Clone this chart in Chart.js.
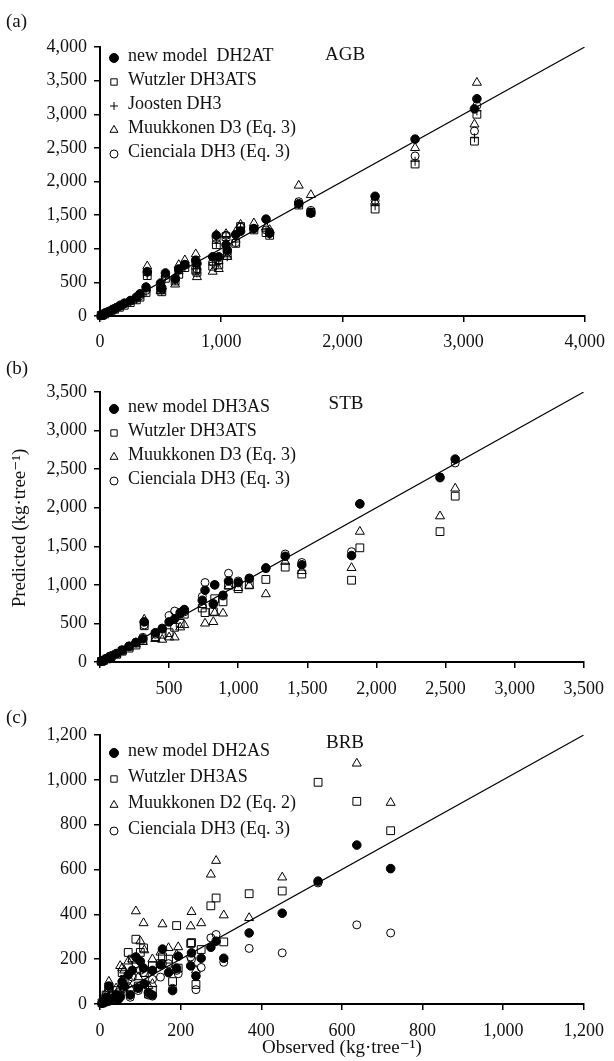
<!DOCTYPE html>
<html>
<head>
<meta charset="utf-8">
<script src="https://cdn.jsdelivr.net/npm/chart.js@4/dist/chart.umd.min.js"></script>
<style>
  html, body { margin: 0; padding: 0; background: #fff; }
  #wrap { position: relative; width: 614px; height: 1061px; }
  canvas { position: absolute; left: 0; }
</style>
</head>
<body>
<div id="wrap">
  <canvas id="agb" width="614" height="360" style="top:0"></canvas>
  <canvas id="stb" width="614" height="345" style="top:360px"></canvas>
  <canvas id="brb" width="614" height="356" style="top:705px"></canvas>
</div>
<script>
// ---- (a) AGB: observed vs predicted, kg per tree
const agbObs      = [3090, 3110, 2600, 2270, 1640, 1740, 1370, 1400, 1270, 1160, 1120, 1040, 1050, 960, 980, 930, 790, 800, 700, 650, 620, 540, 500, 510, 390, 380, 330, 300, 250, 200, 160, 120, 90, 60, 40, 20, 10]
const agbNew      = [3080, 3230, 2630, 1780, 1670, 1530, 1440, 1230, 1300, 1260, 1210, 1060, 980, 1200, 880, 880, 830, 780, 760, 700, 560, 640, 490, 420, 660, 430, 330, 280, 230, 190, 150, 110, 80, 55, 35, 18, 8]
const agbWutzler  = [2600, 3000, 2260, 1590, 1650, 1540, 1240, 1200, 1280, 1330, 1080, 1180, 900, 1060, 760, 740, 680, 650, 720, 620, 520, 560, 390, 360, 600, 350, 280, 240, 200, 160, 130, 100, 70, 50, 30, 15, 8]
const agbJoosten  = [2650, 3050, 2300, 1640, 1660, 1550, 1260, 1210, 1290, 1320, 1100, 1170, 880, 1080, 780, 760, 700, 640, 720, 630, 530, 580, 400, 370, 610, 360, 290, 250, 210, 170, 140, 100, 70, 50, 30, 15, 8]
const agbMuuk     = [2850, 3470, 2500, 1700, 1940, 1800, 1320, 1280, 1380, 1360, 1250, 1220, 880, 1210, 700, 660, 920, 580, 830, 760, 470, 620, 370, 440, 740, 420, 320, 270, 220, 180, 150, 110, 80, 55, 35, 18, 9]
const agbCienc    = [2750, 3130, 2380, 1720, 1700, 1570, 1280, 1250, 1300, 1320, 1090, 1200, 950, 1150, 820, 800, 790, 700, 770, 680, 540, 600, 420, 400, 650, 380, 300, 260, 220, 180, 140, 100, 75, 50, 35, 16, 8]

// ---- (b) STB
const stbObs      = [2570, 2460, 1880, 1820, 1460, 1340, 1200, 1080, 1000, 930, 890, 830, 820, 760, 740, 610, 580, 540, 500, 450, 400, 320, 310, 260, 210, 160, 120, 80, 50, 25, 10]
const stbNew      = [2630, 2390, 2050, 1380, 1260, 1370, 1220, 1080, 1030, 1050, 860, 1000, 750, 930, 800, 680, 640, 560, 520, 430, 380, 520, 300, 250, 200, 150, 110, 75, 45, 22, 8]
const stbWutzler  = [2150, 1690, 1480, 1060, 1140, 1230, 1070, 1000, 950, 1000, 780, 820, 650, 640, 700, 620, 500, 450, 380, 360, 330, 470, 280, 220, 180, 140, 100, 70, 40, 20, 8]
const stbMuuk     = [2250, 1890, 1690, 1220, 1180, 1300, 880, 990, 960, 980, 630, 640, 520, 500, 740, 480, 450, 320, 320, 290, 300, 550, 260, 230, 190, 140, 100, 70, 45, 22, 8]
const stbCienc    = [2580, 2400, 2050, 1430, 1290, 1400, 1210, 1090, 1050, 1150, 870, 1000, 760, 1030, 850, 650, 620, 660, 600, 440, 360, 480, 320, 260, 210, 160, 110, 80, 50, 25, 9]

// ---- (c) BRB
const brbObs      = [721, 637, 541, 452, 370, 307, 288, 275, 251, 238, 227, 225, 194, 190, 180, 170, 155, 150, 130, 130, 120, 110, 108, 100, 95, 89, 80, 75, 70, 60, 55, 50, 45, 40, 30, 22, 20, 15, 10, 5]
const brbNew      = [604, 709, 548, 405, 317, 204, 280, 253, 204, 125, 228, 170, 213, 160, 60, 140, 245, 175, 150, 40, 50, 90, 160, 190, 70, 210, 150, 40, 130, 80, 100, 30, 20, 40, 25, 80, 15, 30, 8, 3]
const brbWutzler  = [773, 904, 989, 504, 492, 277, 473, 438, 243, 87, 274, 270, 160, 350, 100, 200, 210, 180, 170, 60, 45, 140, 250, 230, 80, 289, 200, 60, 230, 110, 140, 50, 30, 60, 35, 60, 20, 40, 10, 5]
const brbMuuk     = [898, 1073, null, 565, 384, 396, 639, 578, 361, 150, 411, 347, 254, 220, 150, 250, 356, 230, 200, 90, 80, 240, 361, 280, 120, 414, 200, 70, 190, 150, 160, 170, 60, 70, 50, 100, 30, 50, 15, 8]
const brbCienc    = [317, 353, 540, 228, 248, 186, 310, 295, 163, 64, 200, 210, 135, 150, 70, 180, 180, 120, 110, 35, 40, 90, 140, 150, 60, 180, 120, 30, 110, 70, 90, 40, 25, 30, 20, 70, 10, 20, 5, 2]

const agbTicks = { xMax: 4000, xStep: 1000, yMax: 4000, yStep: 500 }
const stbTicks = { xMax: 3500, xStep: 500, yMax: 3500, yStep: 500 }
const brbTicks = { xMax: 1200, xStep: 200, yMax: 1200, yStep: 200 }

const SERIF = '"Liberation Serif", "DejaVu Serif", serif'
const INK = "#111"

const pts = (obs, pred) =>
  obs.map((x, i) => ({ x: x, y: pred[i] })).filter((p) => p.y !== null)

// marker styles for each model
const styles = {
  newModel:  { pointStyle: "circle",   radius: 4.3, backgroundColor: "#000",        legendRadius: 4.5 },
  wutzler:   { pointStyle: "rect",     radius: 5.5, backgroundColor: "rgba(0,0,0,0)", legendRadius: 4.5 },
  joosten:   { pointStyle: "cross",    radius: 4.5, backgroundColor: "rgba(0,0,0,0)", legendRadius: 4 },
  muukkonen: { pointStyle: "triangle", radius: 5.2, backgroundColor: "rgba(0,0,0,0)", legendRadius: 4.6 },
  cienciala: { pointStyle: "circle",   radius: 4,   backgroundColor: "rgba(0,0,0,0)", legendRadius: 4 },
}

function series(label, kind, data) {
  const s = styles[kind]
  return {
    type: "scatter",
    label: label,
    data: data,
    pointStyle: s.pointStyle,
    pointRadius: s.radius,
    legendRadius: s.legendRadius,
    backgroundColor: s.backgroundColor,
    borderColor: "#000",
    borderWidth: 1,
    clip: false,
  }
}

function oneToOne(max) {
  return {
    type: "line",
    label: "",
    data: [{ x: 0, y: 0 }, { x: max, y: max }],
    borderColor: "#000",
    borderWidth: 1.2,
    pointRadius: 0,
    fill: false,
  }
}

// panel letter, title, legend and axis titles
const annotate = {
  id: "annotate",
  afterDraw(chart, args, o) {
    const ctx = chart.ctx
    ctx.save()
    ctx.fillStyle = INK
    ctx.textBaseline = "middle"
    ctx.font = "19px " + SERIF
    ctx.textAlign = "left"
    ctx.fillText(o.panel, 6, o.panelY)
    ctx.textAlign = "center"
    ctx.fillText(o.title, o.titleX, o.titleY)

    ctx.font = "18px " + SERIF
    ctx.textAlign = "left"
    let row = 0
    chart.data.datasets.forEach((ds) => {
      if (!ds.label) return
      const y = o.legendY + row * o.legendGap
      row++
      ctx.strokeStyle = "#000"
      ctx.lineWidth = 1
      ctx.fillStyle = ds.backgroundColor
      Chart.helpers.drawPoint(ctx, { pointStyle: ds.pointStyle, radius: ds.legendRadius, rotation: 0, borderWidth: 1 }, 114, y + 2)
      ctx.fillStyle = INK
      ctx.fillText(ds.label, 128, y)
    })

    if (o.yTitle) {
      ctx.save()
      ctx.translate(o.yTitleX, o.yTitleY)
      ctx.rotate(-Math.PI / 2)
      ctx.textAlign = "center"
      ctx.font = "19px " + SERIF
      ctx.fillText(o.yTitle, 0, 0)
      ctx.restore()
    }
    if (o.xTitle) {
      ctx.textAlign = "center"
      ctx.font = "19px " + SERIF
      ctx.fillText(o.xTitle, (chart.chartArea.left + chart.chartArea.right) / 2, o.xTitleY)
    }
    ctx.restore()
  },
}

function axis(max, step, extra) {
  return Object.assign({
    type: "linear",
    min: 0,
    max: max,
    ticks: {
      stepSize: step,
      color: INK,
      font: { family: SERIF, size: 18 },
      padding: 7,
      callback: (v) => v.toLocaleString("en-US"),
    },
    grid: { drawOnChartArea: false, color: "#000", lineWidth: 1.5, tickLength: 6 },
    border: { color: "#000", width: 2 },
  }, extra)
}

function makeChart(id, datasets, t, cfg) {
  const ctx = document.getElementById(id).getContext("2d")
  const x = axis(t.xMax, t.xStep, { afterFit: (s) => { s.height = cfg.xHeight } })
  x.ticks.padding = cfg.xPad
  if (cfg.hideZeroX) x.ticks.callback = (v) => (v === 0 ? "" : v.toLocaleString("en-US"))
  const y = axis(t.yMax, t.yStep, { afterFit: (s) => { s.width = 100 } })
  return new Chart(ctx, {
    data: { datasets: datasets },
    options: {
      responsive: false,
      animation: false,
      layout: { padding: { top: cfg.top, right: 24, left: 0, bottom: 0 } },
      plugins: {
        legend: { display: false },
        tooltip: { enabled: false },
        annotate: cfg.annot,
      },
      scales: { x: x, y: y },
    },
    plugins: [annotate],
  })
}

makeChart("agb", [
  series("new model  DH2AT", "newModel", pts(agbObs, agbNew)),
  series("Wutzler DH3ATS", "wutzler", pts(agbObs, agbWutzler)),
  series("Joosten DH3", "joosten", pts(agbObs, agbJoosten)),
  series("Muukkonen D3 (Eq. 3)", "muukkonen", pts(agbObs, agbMuuk)),
  series("Cienciala DH3 (Eq. 3)", "cienciala", pts(agbObs, agbCienc)),
  oneToOne(agbTicks.xMax),
], agbTicks, {
  top: 47, xHeight: 44, xPad: 9,
  annot: { panel: "(a)", panelY: 22, title: "AGB", titleX: 345, titleY: 55, legendY: 56, legendGap: 24 },
})

makeChart("stb", [
  series("new model DH3AS", "newModel", pts(stbObs, stbNew)),
  series("Wutzler DH3ATS", "wutzler", pts(stbObs, stbWutzler)),
  series("Muukkonen D3 (Eq. 3)", "muukkonen", pts(stbObs, stbMuuk)),
  series("Cienciala DH3 (Eq. 3)", "cienciala", pts(stbObs, stbCienc)),
  oneToOne(stbTicks.xMax),
], stbTicks, {
  top: 32, xHeight: 43, xPad: 10, hideZeroX: true,
  annot: { panel: "(b)", panelY: 9, title: "STB", titleX: 346, titleY: 44, legendY: 47, legendGap: 24,
    yTitle: "Predicted (kg·tree⁻¹)", yTitleX: 20, yTitleY: 168 },
})

makeChart("brb", [
  series("new model DH2AS", "newModel", pts(brbObs, brbNew)),
  series("Wutzler DH3AS", "wutzler", pts(brbObs, brbWutzler)),
  series("Muukkonen D2 (Eq. 2)", "muukkonen", pts(brbObs, brbMuuk)),
  series("Cienciala DH3 (Eq. 3)", "cienciala", pts(brbObs, brbCienc)),
  oneToOne(brbTicks.xMax),
], brbTicks, {
  top: 30, xHeight: 57, xPad: 10,
  annot: { panel: "(c)", panelY: 13, title: "BRB", titleX: 345, titleY: 38, legendY: 46, legendGap: 26,
    xTitle: "Observed (kg·tree⁻¹)", xTitleY: 343 },
})
</script>
</body>
</html>
